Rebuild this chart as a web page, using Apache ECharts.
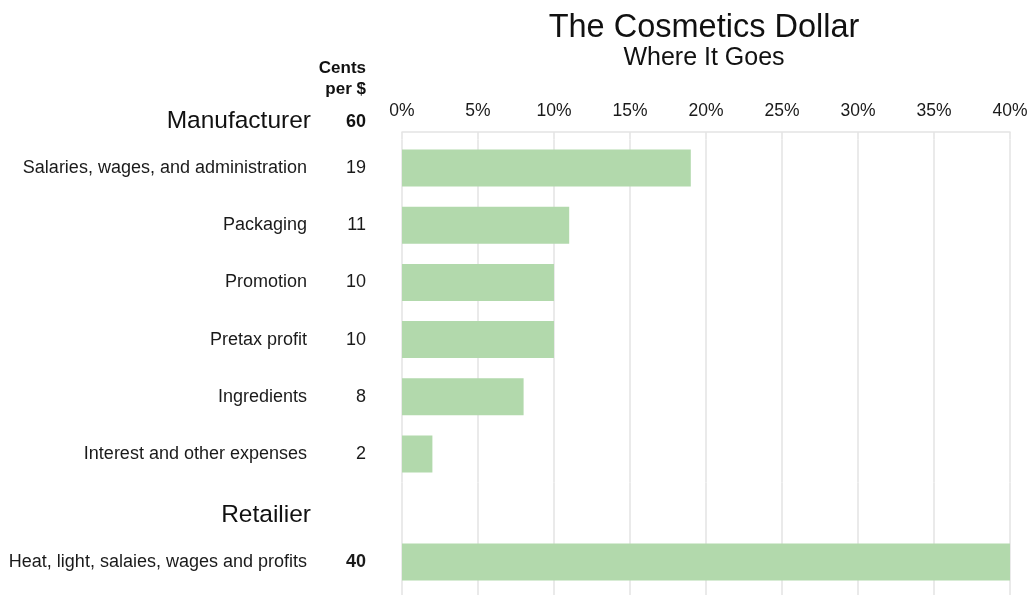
<!DOCTYPE html>
<html>
<head>
<meta charset="utf-8">
<script src="https://cdn.jsdelivr.net/npm/echarts@6/dist/echarts.min.js"></script>
<style>
  html, body { margin: 0; padding: 0; background: #fff; }
  #chart { width: 1031px; height: 595px; }
</style>
</head>
<body>
<div id="chart"></div>
<script>
// Where each cent of a cosmetics dollar goes
const manufacturerItems = [
  'Salaries, wages, and administration',
  'Packaging',
  'Promotion',
  'Pretax profit',
  'Ingredients',
  'Interest and other expenses'
];
const manufacturerCents = [19, 11, 10, 10, 8, 2];
const retailerItems = ['Heat, light, salaies, wages and profits'];
const retailerCents = [40];
const groupNames = ['Manufacturer', 'Retailier'];
const groupTotals = [60, 40];
const tickMax = 40;
const tickStep = 5;

const FONT = 'Liberation Sans, Arial, sans-serif';
const BAR = '#b2d9ac';
const GRID_LINE = '#e3e3e3';

const chart = echarts.init(document.getElementById('chart'));

const rowRich = (boldValue) => ({
  n: { fontFamily: FONT, fontSize: 18, color: '#1a1a1a' },
  v: { fontFamily: FONT, fontSize: 18, color: '#1a1a1a', width: 59, align: 'right',
       fontWeight: boldValue ? 'bold' : 'normal' }
});

function catAxis(gridIndex, names, cents, boldValue) {
  return {
    type: 'category',
    gridIndex,
    inverse: true,
    data: names,
    axisLine: { show: false },
    axisTick: { show: false },
    axisLabel: {
      margin: 36,
      formatter: (val, i) => '{n|' + val + '}{v|' + cents[i] + '}',
      rich: rowRich(boldValue)
    }
  };
}

function valAxis(gridIndex, withLabels) {
  return {
    type: 'value',
    gridIndex,
    min: 0,
    max: tickMax,
    interval: tickStep,
    position: 'top',
    offset: withLabels ? 7.4 : 0,
    axisLine: { show: withLabels, lineStyle: { color: GRID_LINE, width: 1.5 } },
    axisTick: { show: withLabels, inside: true, length: 7.4, lineStyle: { color: GRID_LINE, width: 1.5 } },
    axisLabel: {
      show: withLabels,
      margin: 12,
      formatter: '{value}%',
      fontFamily: FONT,
      fontSize: 17.5,
      color: '#1a1a1a'
    },
    splitLine: { show: true, lineStyle: { color: GRID_LINE, width: 1.5 } }
  };
}

chart.setOption({
  animation: false,
  backgroundColor: '#fff',
  title: {
    text: 'The Cosmetics Dollar',
    subtext: 'Where It Goes',
    left: 699,
    textAlign: 'center',
    top: 7,
    itemGap: 1,
    textStyle: { fontFamily: FONT, fontSize: 32.5, fontWeight: 'normal', color: '#111' },
    subtextStyle: { fontFamily: FONT, fontSize: 25, color: '#111' }
  },
  grid: [
    { left: 402, right: 21, top: 139.4, height: 343.2, outerBoundsMode: 'none' },
    { left: 402, right: 21, top: 482.6, height: 158.8, outerBoundsMode: 'none' }
  ],
  xAxis: [valAxis(0, true), valAxis(1, false)],
  yAxis: [
    catAxis(0, manufacturerItems, manufacturerCents, false),
    catAxis(1, retailerItems, retailerCents, true)
  ],
  series: [
    {
      type: 'bar', xAxisIndex: 0, yAxisIndex: 0,
      data: manufacturerCents, barWidth: 37,
      itemStyle: { color: BAR }
    },
    {
      type: 'bar', xAxisIndex: 1, yAxisIndex: 1,
      data: retailerCents, barWidth: 37,
      itemStyle: { color: BAR }
    }
  ],
  graphic: [
    {
      type: 'text', x: 366, y: 79, silent: true,
      style: {
        text: 'Cents\nper $', align: 'right', verticalAlign: 'middle',
        fontFamily: FONT, fontSize: 17, fontWeight: 'bold', lineHeight: 21, fill: '#111'
      }
    },
    {
      type: 'text', x: 311, y: 121, silent: true,
      style: { text: groupNames[0], align: 'right', verticalAlign: 'middle',
               fontFamily: FONT, fontSize: 24.5, fill: '#111' }
    },
    {
      type: 'text', x: 366, y: 122, silent: true,
      style: { text: String(groupTotals[0]), align: 'right', verticalAlign: 'middle',
               fontFamily: FONT, fontSize: 18, fontWeight: 'bold', fill: '#111' }
    },
    {
      type: 'text', x: 311, y: 515, silent: true,
      style: { text: groupNames[1], align: 'right', verticalAlign: 'middle',
               fontFamily: FONT, fontSize: 24.5, fill: '#111' }
    }
  ]
});
</script>
</body>
</html>
